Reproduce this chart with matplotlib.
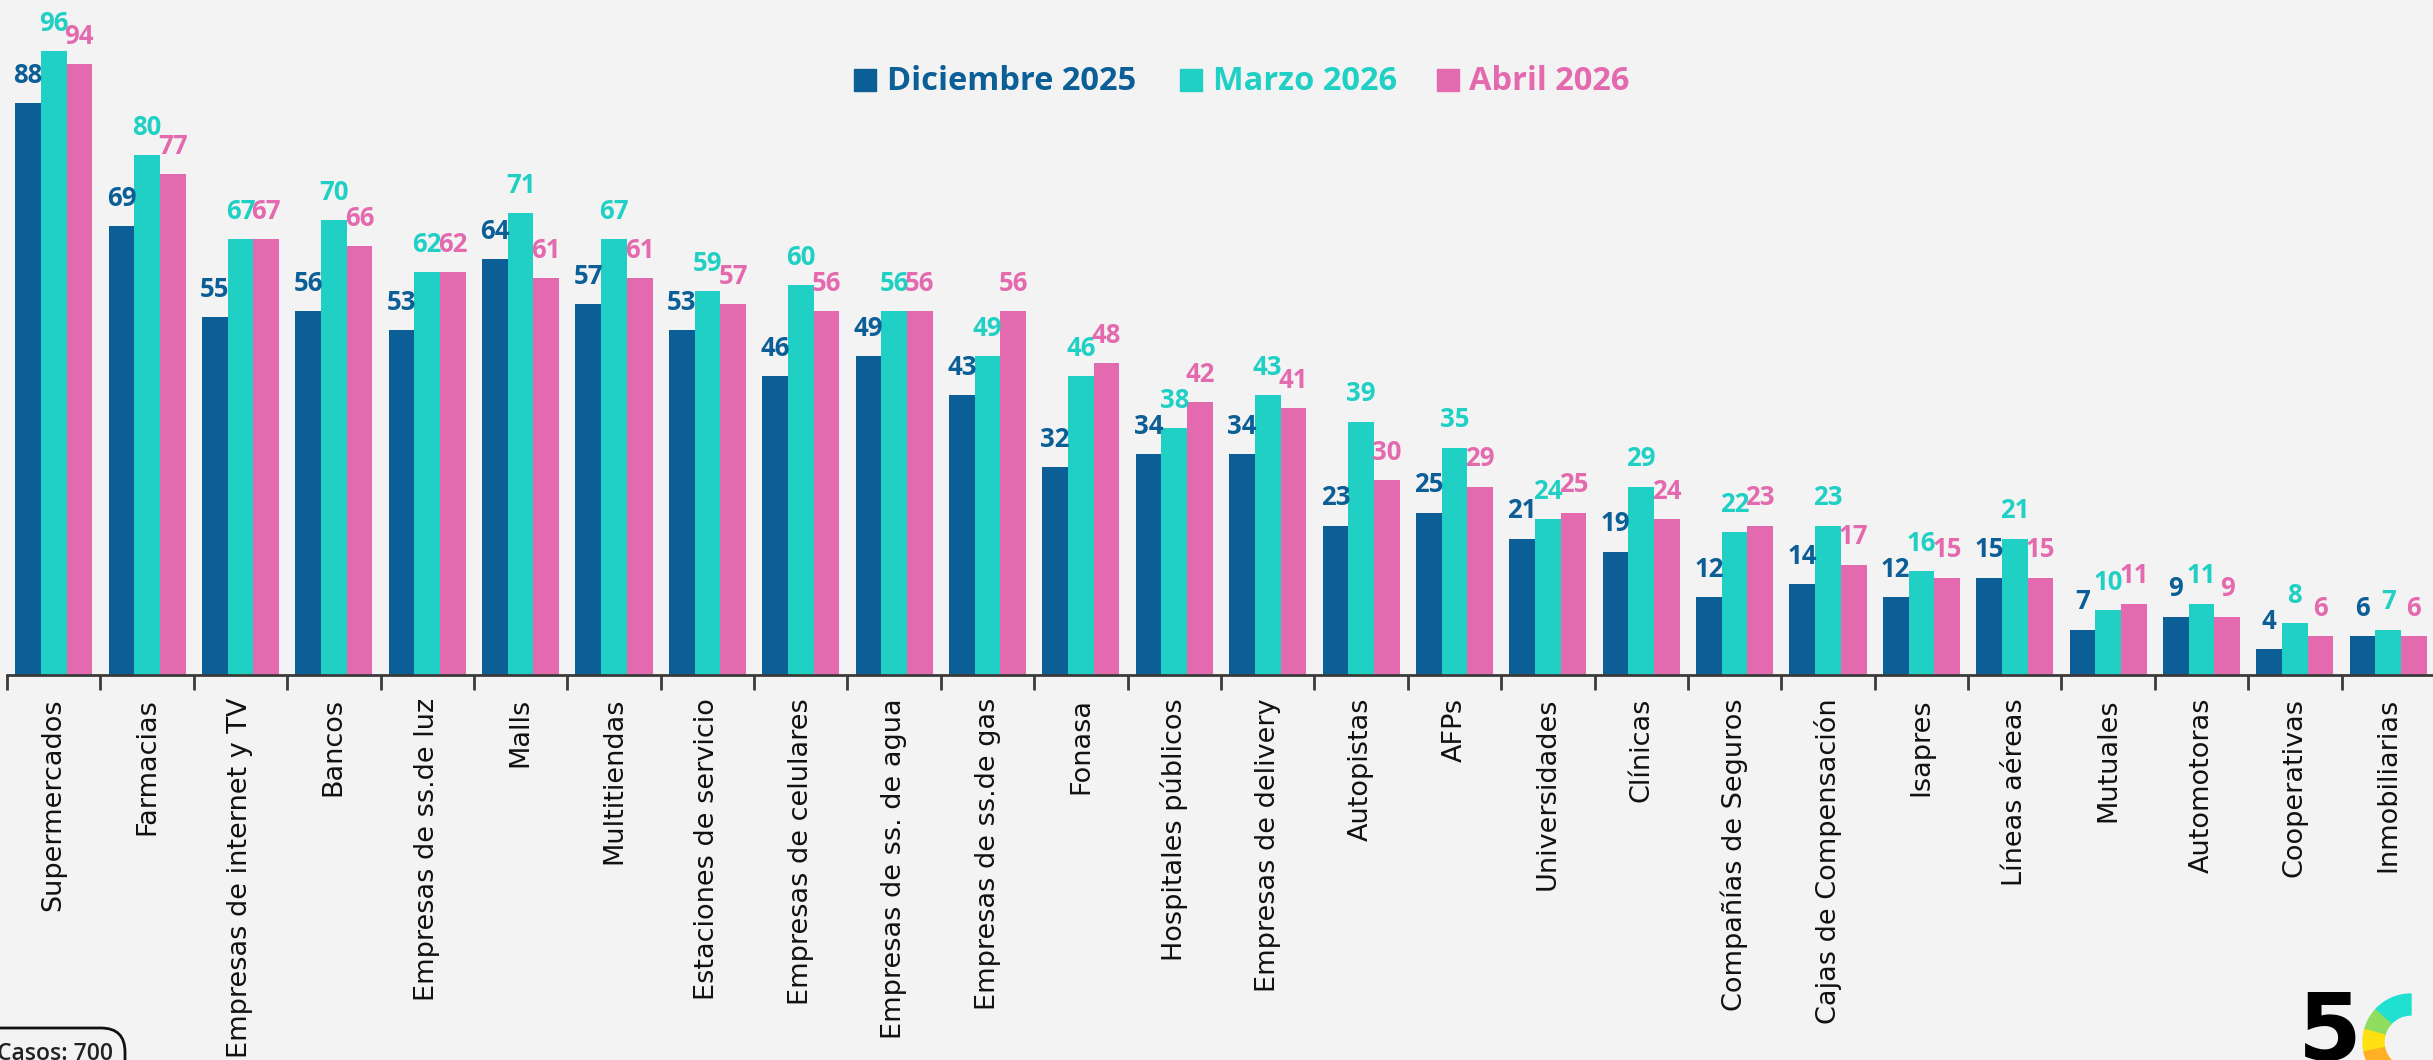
import matplotlib
matplotlib.use("Agg")
import matplotlib.pyplot as plt
from matplotlib.patches import Rectangle, FancyBboxPatch, Wedge
import numpy as np

categories = ["Supermercados", "Farmacias", "Empresas de internet y TV", "Bancos",
              "Empresas de ss.de luz", "Malls", "Multitiendas", "Estaciones de servicio",
              "Empresas de celulares", "Empresas de ss. de agua", "Empresas de ss.de gas",
              "Fonasa", "Hospitales públicos", "Empresas de delivery", "Autopistas", "AFPs",
              "Universidades", "Clínicas", "Compañías de Seguros", "Cajas de Compensación",
              "Isapres", "Líneas aéreas", "Mutuales", "Automotoras", "Cooperativas",
              "Inmobiliarias"]
dic_2025 = [88, 69, 55, 56, 53, 64, 57, 53, 46, 49, 43, 32, 34, 34, 23, 25, 21, 19, 12, 14, 12, 15, 7, 9, 4, 6]
mar_2026 = [96, 80, 67, 70, 62, 71, 67, 59, 60, 56, 49, 46, 38, 43, 39, 35, 24, 29, 22, 23, 16, 21, 10, 11, 8, 7]
abr_2026 = [94, 77, 67, 66, 62, 61, 61, 57, 56, 56, 56, 48, 42, 41, 30, 29, 25, 24, 23, 17, 15, 15, 11, 9, 6, 6]
series_names = ["Diciembre 2025", "Marzo 2026", "Abril 2026"]
casos_text = "Casos: 700"

colors = ["#0C5E96", "#20D0C4", "#E36AAE"]
BG = "#F4F3F3"
W, H = 2433, 1060
DPI = 100

plt.rcParams['font.family'] = ['Open Sans', 'DejaVu Sans']

fig = plt.figure(figsize=(W / DPI, H / DPI), dpi=DPI, facecolor=BG)

axis_y = 675
ax = fig.add_axes([7 / W, (H - axis_y) / H, 2428 / W, axis_y / H])
ax.set_facecolor("none")
ax.set_xlim(-0.5, len(categories) - 0.5)
ax.set_ylim(0, axis_y / 6.5)

x = np.arange(len(categories))
bw = 0.275
all_series = [dic_2025, mar_2026, abr_2026]
for i, (vals, c) in enumerate(zip(all_series, colors)):
    xs = x + (i - 1) * bw
    ax.bar(xs, vals, width=bw, color=c, edgecolor="none", zorder=2)
    for xi, v in zip(xs, vals):
        ax.annotate(str(v), (xi, v), xytext=(0, 14.5), textcoords="offset points",
                    ha="center", va="baseline", fontsize=18.5, fontweight="bold",
                    color=c, zorder=3)

for s in ["top", "left", "right"]:
    ax.spines[s].set_visible(False)
ax.spines["bottom"].set_color("#3a3a3a")
ax.spines["bottom"].set_linewidth(2)
ax.set_yticks([])
ax.set_xticks(np.arange(len(categories) + 1) - 0.5)
ax.set_xticklabels([])
ax.tick_params(axis="x", which="major", length=11, width=2, color="#3a3a3a", direction="out")
ax.set_xticks(x, minor=True)
ax.set_xticklabels(categories, minor=True, rotation=90, fontsize=19.5, color="#111111",
                   va="top", ha="center", family="DejaVu Sans")
ax.tick_params(axis="x", which="minor", length=0, pad=16.5)

# overlay axes in pixel coords (y up)
ov = fig.add_axes([0, 0, 1, 1])
ov.set_xlim(0, W)
ov.set_ylim(0, H)
ov.axis("off")
ov.set_facecolor("none")

# legend
leg_sq_x = [854, 1180, 1437]
leg_tx_x = [887, 1213, 1469]
for name, c, sx, tx in zip(series_names, colors, leg_sq_x, leg_tx_x):
    ov.add_patch(Rectangle((sx, H - 91), 22, 22, color=c, zorder=5))
    ov.text(tx, H - 90, name, ha="left", va="baseline", fontsize=23.5,
            fontweight="bold", color=c, zorder=5)

# Casos box
ov.add_patch(FancyBboxPatch((-40, -30), 165, 62,
                            boxstyle="round,pad=0,rounding_size=24",
                            facecolor=BG, edgecolor="#111111", linewidth=2, zorder=5))
ov.text(-3, 0, casos_text, ha="left", va="baseline", fontsize=16.5,
        fontweight="semibold", color="#222222", zorder=6)

# logo
ov.text(2298, 0, "5", ha="left", va="baseline", fontsize=66, fontweight="bold",
        color="black", family="DejaVu Sans", zorder=6)
cx, cy, r_out, wdt = 2411, H - 1042, 48, 21
arc_colors = [("#20E0D0", 90, 138), ("#90DD60", 138, 165), ("#FFE012", 165, 192),
              ("#FFB024", 192, 222), ("#FF7A30", 222, 260)]
for col, t1, t2 in arc_colors:
    ov.add_patch(Wedge((cx, cy), r_out, t1, t2, width=wdt, color=col, zorder=6))

fig.savefig("out.png", dpi=DPI, facecolor=BG)
